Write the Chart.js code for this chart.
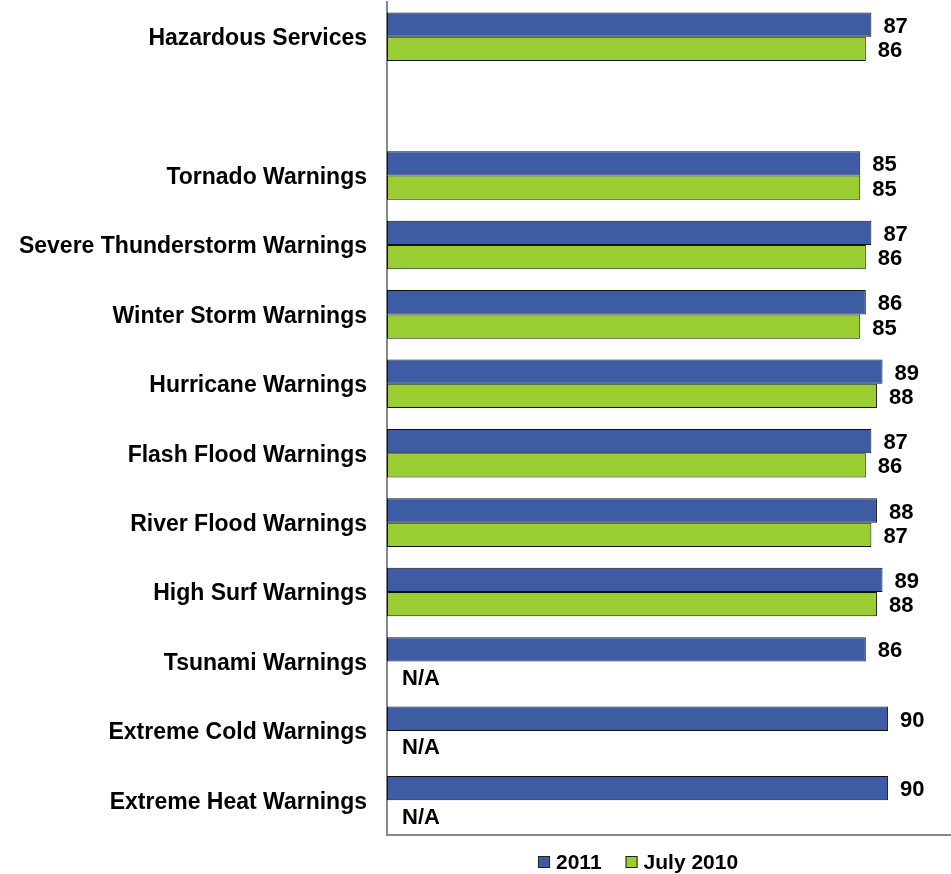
<!DOCTYPE html>
<html>
<head>
<meta charset="utf-8">
<script src="https://cdn.jsdelivr.net/npm/chart.js@4.4.1/dist/chart.umd.min.js"></script>
<style>
  html, body { margin: 0; padding: 0; background: #fff; }
  #wrap { width: 951px; height: 874px; }
</style>
</head>
<body>
<div id="wrap"><canvas id="chart"></canvas></div>
<script>
// categories (empty string = spacer row under Hazardous Services)
const categories = [
  "Hazardous Services",
  "",
  "Tornado Warnings",
  "Severe Thunderstorm Warnings",
  "Winter Storm Warnings",
  "Hurricane Warnings",
  "Flash Flood Warnings",
  "River Flood Warnings",
  "High Surf Warnings",
  "Tsunami Warnings",
  "Extreme Cold Warnings",
  "Extreme Heat Warnings",
];
const values2011 = [87, null, 85, 87, 86, 89, 87, 88, 89, 86, 90, 90];
const valuesJuly2010 = [86, null, 85, 86, 85, 88, 86, 87, 88, null, null, null];
const seriesNames = ["2011", "July 2010"];

const FONT = "'Liberation Sans', Arial, sans-serif";

// value labels at bar ends, "N/A" where a real category has no value
const valueLabels = {
  id: "valueLabels",
  afterDatasetsDraw(chart) {
    const ctx = chart.ctx;
    const area = chart.chartArea;
    ctx.save();
    ctx.font = "bold 22px " + FONT;
    ctx.fillStyle = "#000";
    ctx.textBaseline = "middle";
    ctx.textAlign = "left";
    chart.data.datasets.forEach((ds, di) => {
      const meta = chart.getDatasetMeta(di);
      meta.data.forEach((bar, i) => {
        if (categories[i] === "") return;
        const v = ds.data[i];
        if (v === null) {
          ctx.fillText("N/A", area.left + 15, bar.y + 5);
        } else {
          ctx.fillText(String(v), bar.x + 12, bar.y + 2);
        }
      });
    });
    ctx.restore();
  }
};

// legend under the plot
const bottomLegend = {
  id: "bottomLegend",
  afterDraw(chart) {
    const ctx = chart.ctx;
    ctx.save();
    ctx.font = "bold 21px " + FONT;
    ctx.textBaseline = "middle";
    ctx.textAlign = "left";
    let x = 538;
    const y = 862;
    chart.data.datasets.forEach((ds) => {
      ctx.fillStyle = ds.backgroundColor;
      ctx.fillRect(x, y - 6, 12, 12);
      ctx.strokeStyle = "#222";
      ctx.lineWidth = 1;
      ctx.strokeRect(x + 0.5, y - 5.5, 11, 11);
      ctx.fillStyle = "#000";
      ctx.fillText(ds.label, x + 18, y + 1);
      x += 18 + ctx.measureText(ds.label).width + 24;
    });
    ctx.restore();
  }
};

new Chart(document.getElementById("chart"), {
  type: "bar",
  data: {
    labels: categories,
    datasets: [
      {
        label: seriesNames[0],
        data: values2011,
        backgroundColor: "#3D5CA3",
        borderColor: "#111",
        borderWidth: 1,
        borderSkipped: false,
      },
      {
        label: seriesNames[1],
        data: valuesJuly2010,
        backgroundColor: "#9ACD32",
        borderColor: "#111",
        borderWidth: 1,
        borderSkipped: false,
      },
    ],
  },
  options: {
    indexAxis: "y",
    responsive: true,
    maintainAspectRatio: false,
    animation: false,
    categoryPercentage: 0.7,
    barPercentage: 1.0,
    layout: { padding: { top: 2, bottom: 39, right: 0, left: 0 } },
    plugins: {
      legend: { display: false },
      tooltip: { enabled: false },
    },
    scales: {
      x: {
        min: 0,
        max: 101.3,
        grid: { display: false, drawTicks: false },
        border: { color: "#888", width: 2 },
        ticks: { display: false },
      },
      y: {
        grid: { display: false, drawTicks: false },
        border: { color: "#888", width: 2 },
        ticks: {
          color: "#000",
          padding: 20,
          labelOffset: 2,
          font: { family: FONT, size: 23, weight: "bold" },
        },
        afterFit(scale) {
          scale.width = 387;
          scale.paddingTop = 0;
          scale.paddingBottom = 0;
        },
      },
    },
  },
  plugins: [valueLabels, bottomLegend],
});
</script>
</body>
</html>
